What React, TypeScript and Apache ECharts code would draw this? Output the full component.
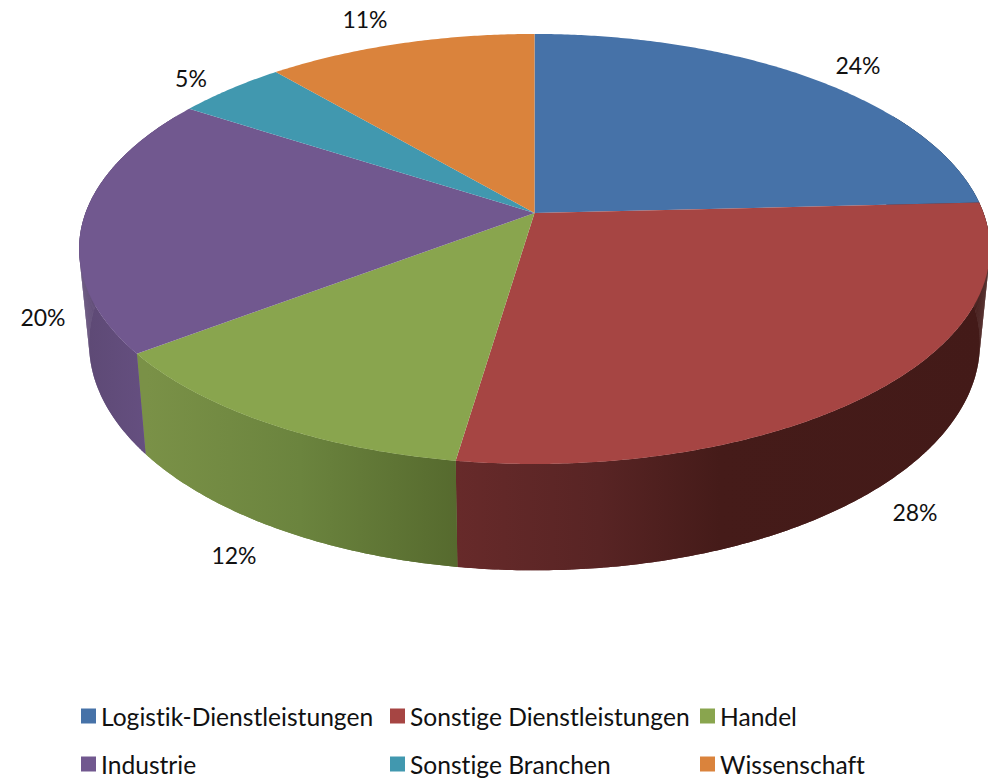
import React, { useEffect, useRef } from "react";
import * as echarts from "echarts";

const categories = ["Logistik-Dienstleistungen", "Sonstige Dienstleistungen", "Handel", "Industrie", "Sonstige Branchen", "Wissenschaft"];
const values = [24.2, 28.14, 12.31, 19.5, 4.6, 11.25];
const topColors = ["#4672A8", "#A64543", "#89A54E", "#71588F", "#4198AF", "#DA833C"];
const wallStops: [number, string][][] = [
  [[900, "#2a4465"], [990, "#2a4465"]],
  [[456, "#672a2a"], [600, "#582424"], [720, "#451b19"], [990, "#431a18"]],
  [[147, "#7a9147"], [300, "#6b843e"], [456, "#566a2e"]],
  [[80, "#5d4974"], [147, "#654f80"]],
  [[200, "#2a6474"], [300, "#2a6474"]],
  [[280, "#8f5426"], [534, "#8f5426"]],
];
const labelPositions: [number, number][] = [[858, 65], [915, 512], [234, 555], [43, 317], [191, 78], [365, 19]];
const legendColumns = [[0, 3], [1, 4], [2, 5]];
const legendLefts = [81, 390, 700];

const FONT = "Lato, Carlito, Calibri, sans-serif";
const W = 988, H = 779;
const CX = 534.5, APEX_Y = 213, K = 0.1674, S = 209, R = 449;
const total = values.reduce((a, b) => a + b, 0);

const topPoint = (deg: number): [number, number] => {
  const t = (deg * Math.PI) / 180;
  const u = Math.sin(t), v = Math.cos(t), d = 1 + K * v;
  return [CX + (R * u) / d, APEX_Y - (S * v) / d];
};
const basePoint = ([x, y]: [number, number]): [number, number] => [
  CX + 0.978 * (x - CX),
  305.5 + 1.055 * (y - APEX_Y),
];
const arcPoints = (a: number, b: number) => {
  const n = Math.max(2, Math.ceil(Math.abs(b - a) * 2));
  const pts: [number, number][] = [];
  for (let i = 0; i <= n; i++) pts.push(topPoint(a + ((b - a) * i) / n));
  return pts;
};

const makeItem = (index: number) => (_params: any, api: any) => {
  const start = (values.slice(0, index).reduce((a, b) => a + b, 0) / total) * 360;
  const end = start + (values[index] / total) * 360;
  const children: any[] = [];
  const wa = Math.max(start, 60), wb = Math.min(end, 300);
  if (wb > wa) {
    const top = arcPoints(wa, wb);
    const stops = wallStops[index];
    const x0 = stops[0][0], x1 = stops[stops.length - 1][0];
    const fill = new echarts.graphic.LinearGradient(
      x0, 0, x1, 0,
      stops.map(([x, color]) => ({ offset: (x - x0) / (x1 - x0), color })),
      true
    );
    // the main band, then the strips that form the silhouette at both sides
    children.push({
      type: "polygon",
      z2: 1,
      shape: { points: [...top, ...top.slice().reverse().map(basePoint)] },
      style: { fill },
    });
    for (let i = 0; i + 1 < top.length; i++) {
      children.push({
        type: "polygon",
        z2: 1,
        shape: { points: [top[i], top[i + 1], basePoint(top[i + 1]), basePoint(top[i])] },
        style: { fill },
      });
    }
  }
  children.push({
    type: "polygon",
    z2: 5,
    shape: { points: [[CX, APEX_Y], ...arcPoints(start, end)] },
    style: { fill: api.visual("color") },
  });
  children.push({
    type: "text",
    z2: 10,
    x: labelPositions[index][0],
    y: labelPositions[index][1],
    style: {
      text: `${Math.round(values[index])}%`,
      fill: "#111111",
      font: `23px ${FONT}`,
      align: "center",
      verticalAlign: "middle",
    },
  });
  return { type: "group", children };
};

export default function App() {
  const ref = useRef<HTMLDivElement>(null);
  useEffect(() => {
    const chart = echarts.init(ref.current!, undefined, { renderer: "svg" });
    chart.setOption({
      animation: false,
      backgroundColor: "#ffffff",
      legend: legendColumns.map((col, i) => ({
        orient: "vertical",
        left: legendLefts[i],
        top: 702,
        itemWidth: 15,
        itemHeight: 15,
        itemGap: 20,
        icon: "rect",
        selectedMode: false,
        padding: 0,
        data: col.map((c) => categories[c]),
        textStyle: { fontFamily: FONT, fontSize: 24.6, color: "#111111", lineHeight: 28 },
      })),
      series: categories.map((name, i) => ({
        type: "custom",
        name,
        coordinateSystem: "none",
        silent: true,
        itemStyle: { color: topColors[i] },
        data: [[values[i]]],
        renderItem: makeItem(i),
      })),
    });
    return () => chart.dispose();
  }, []);
  return <div ref={ref} style={{ position: "absolute", left: 0, top: 0, width: W, height: H, fontVariantLigatures: "none" }} />;
}
